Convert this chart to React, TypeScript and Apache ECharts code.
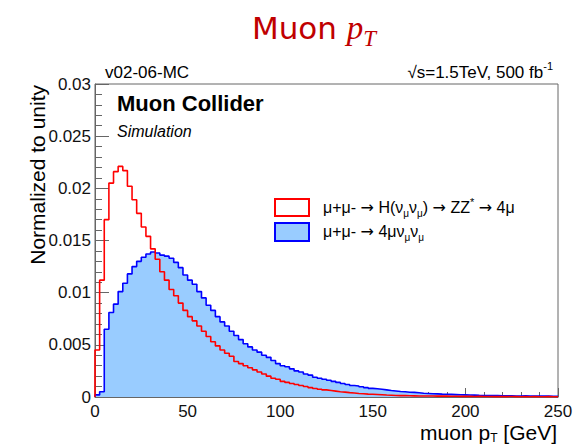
import React, { useEffect, useRef } from "react";
import * as echarts from "echarts";

// ---- data ----
const binWidthGeV = 2.5; // histogram bin width, bins start at 0 GeV
const xTicks = [0, 50, 100, 150, 200, 250];
const yTicks = [0, 0.005, 0.01, 0.015, 0.02, 0.025, 0.03];

const signalName = "μ+μ- → H(νμνμ) → ZZ* → 4μ";
const backgroundName = "μ+μ- → 4μνμνμ";

// μ+μ- → H(νν) → ZZ* → 4μ  (red outline)
const signalValues = [
  0.0045, 0.0112, 0.0170, 0.0205, 0.0216, 0.0221, 0.0217, 0.0202, 0.0189, 0.0176,
  0.0163, 0.0154, 0.0142, 0.0132, 0.0120, 0.0112, 0.0103, 0.0097, 0.0090, 0.0083,
  0.0077, 0.0073, 0.0068, 0.0063, 0.0058, 0.0053, 0.0049, 0.0045, 0.0042, 0.0039,
  0.0034, 0.0032, 0.0030, 0.0028, 0.0026, 0.0024, 0.0022, 0.0020, 0.0018, 0.0017,
  0.0015, 0.0014, 0.0013, 0.0012, 0.0011, 0.00100, 0.00090, 0.00082, 0.00075, 0.00068,
  0.00062, 0.00056, 0.00050, 0.00047, 0.00042, 0.00039, 0.00034, 0.00031, 0.00028, 0.00026,
  0.00024, 0.00022, 0.00019, 0.00017, 0.00015, 0.00013, 0.00013, 0.00012, 0.00011, 0.00010,
  0.00010, 0.00009, 0.00009, 0.00008, 0.00008, 0.00008, 0.00007, 0.00007, 0.00006, 0.00007,
  0.00006, 0.00005, 0.00006, 0.00005, 0.00005, 0.00004, 0.00005, 0.00004, 0.00004, 0.00005,
  0.00004, 0.00003, 0.00004, 0.00003, 0.00004, 0.00003, 0.00003, 0.00004, 0.00003, 0.00003,
];

// μ+μ- → 4μνν  (blue filled)
const backgroundValues = [
  0.0002, 0.0005, 0.0065, 0.0081, 0.0089, 0.0101, 0.0109, 0.0118, 0.0125, 0.0130,
  0.0134, 0.0137, 0.0139, 0.0138, 0.0136, 0.0135, 0.0133, 0.0129, 0.0124, 0.0117,
  0.0112, 0.0108, 0.0101, 0.0095, 0.0088, 0.0083, 0.0077, 0.0072, 0.0068, 0.0063,
  0.0059, 0.0055, 0.0051, 0.0048, 0.0045, 0.0043, 0.0040, 0.0038, 0.0035, 0.0032,
  0.0030, 0.0029, 0.0027, 0.0025, 0.0024, 0.0022, 0.0021, 0.0019, 0.0018, 0.0017,
  0.0016, 0.0015, 0.0014, 0.0013, 0.0012, 0.0011, 0.00105, 0.00098, 0.00090, 0.00083,
  0.00079, 0.00074, 0.00068, 0.00062, 0.00057, 0.00052, 0.00050, 0.00046, 0.00044, 0.00040,
  0.00036, 0.00034, 0.00031, 0.00030, 0.00028, 0.00027, 0.00025, 0.00023, 0.00021, 0.00020,
  0.00019, 0.00018, 0.00016, 0.00015, 0.00015, 0.00014, 0.00013, 0.00012, 0.00012, 0.00011,
  0.00010, 0.00010, 0.00011, 0.00009, 0.00009, 0.00008, 0.00008, 0.00008, 0.00007, 0.00006,
];

const FONT = "'Liberation Sans', Arial, Helvetica, sans-serif";
const ARROW_FONT = "'DejaVu Sans', sans-serif";

function histData(values: number[]): number[][] {
  const pts: number[][] = [[0, 0]];
  values.forEach((v, i) => pts.push([i * binWidthGeV, v]));
  pts.push([values.length * binWidthGeV, values[values.length - 1]]);
  return pts;
}

const legendRich = {
  s: { fontFamily: FONT, fontSize: 10, lineHeight: 10, verticalAlign: "bottom", fill: "#000" },
  u: { fontFamily: FONT, fontSize: 11, lineHeight: 11, verticalAlign: "top", fill: "#000" },
  a: { fontFamily: ARROW_FONT, fontSize: 16, lineHeight: 22, fill: "#000" },
};

export default function App() {
  const ref = useRef<HTMLDivElement>(null);

  useEffect(() => {
    document.body.style.margin = "0";
    if (!ref.current) return;
    const chart = echarts.init(ref.current, undefined, { renderer: "svg" });

    const axisColor = "#666";

    chart.setOption({
      animation: false,
      backgroundColor: "#fff",
      grid: {
        left: 95,
        right: 19,
        top: 84,
        bottom: 51,
        show: true,
        borderColor: axisColor,
        borderWidth: 1,
        containLabel: false,
      },
      xAxis: {
        type: "value",
        min: xTicks[0],
        max: xTicks[xTicks.length - 1],
        interval: xTicks[1] - xTicks[0],
        axisLine: { show: true, lineStyle: { color: axisColor, width: 1 } },
        axisTick: { show: true, inside: true, length: 9, lineStyle: { color: axisColor } },
        minorTick: { show: true, splitNumber: 5, length: 5, lineStyle: { color: axisColor } },
        splitLine: { show: false },
        axisLabel: { fontFamily: FONT, fontSize: 17, color: "#111", margin: 5, lineHeight: 18 },
      },
      yAxis: {
        type: "value",
        min: yTicks[0],
        max: yTicks[yTicks.length - 1],
        interval: yTicks[1] - yTicks[0],
        axisLine: { show: true, lineStyle: { color: axisColor, width: 1 } },
        axisTick: { show: true, inside: true, length: 14, lineStyle: { color: axisColor } },
        minorTick: { show: true, splitNumber: 5, length: 7, lineStyle: { color: axisColor } },
        splitLine: { show: false },
        axisLabel: { fontFamily: FONT, fontSize: 17, color: "#111", margin: 4 },
      },
      series: [
        {
          name: backgroundName,
          type: "line",
          step: "end",
          symbol: "none",
          data: histData(backgroundValues),
          lineStyle: { color: "#0000ff", width: 1.6 },
          itemStyle: { color: "#0000ff" },
          areaStyle: { color: "#99ccff", opacity: 1 },
          z: 2,
        },
        {
          name: signalName,
          type: "line",
          step: "end",
          symbol: "none",
          data: histData(signalValues),
          lineStyle: { color: "#ff0000", width: 1.6 },
          itemStyle: { color: "#ff0000" },
          z: 3,
        },
      ],
      graphic: [
        // Title
        {
          type: "text",
          x: 314,
          y: 28,
          style: {
            text: "Muon {p|p}{t|T}",
            fontFamily: "'DejaVu Sans', Verdana, sans-serif",
            fontSize: 31,
            lineHeight: 44,
            fill: "#c00000",
            align: "center",
            verticalAlign: "middle",
            rich: {
              p: {
                fontFamily: "'Liberation Serif', 'DejaVu Serif', serif",
                fontStyle: "italic",
                fontSize: 33,
                lineHeight: 44,
                fill: "#c00000",
              },
              t: {
                fontFamily: "'Liberation Serif', 'DejaVu Serif', serif",
                fontStyle: "italic",
                fontSize: 23,
                lineHeight: 24,
                verticalAlign: "bottom",
                fill: "#c00000",
              },
            },
          },
        },
        // top-left label
        {
          type: "text",
          x: 105,
          y: 72,
          style: {
            text: "v02-06-MC",
            fontFamily: FONT,
            fontSize: 17,
            fill: "#000",
            align: "left",
            verticalAlign: "middle",
          },
        },
        // top-right label
        {
          type: "text",
          x: 553,
          y: 72,
          style: {
            text: "√s=1.5TeV, 500 fb{sup|-1}",
            fontFamily: FONT,
            fontSize: 17,
            lineHeight: 24,
            fill: "#000",
            align: "right",
            verticalAlign: "middle",
            rich: {
              sup: { fontFamily: FONT, fontSize: 11, lineHeight: 12, verticalAlign: "top", fill: "#000" },
            },
          },
        },
        {
          type: "text",
          x: 117,
          y: 103,
          style: {
            text: "Muon Collider",
            fontFamily: FONT,
            fontSize: 22,
            fontWeight: "bold",
            fill: "#000",
            align: "left",
            verticalAlign: "middle",
          },
        },
        {
          type: "text",
          x: 117,
          y: 131,
          style: {
            text: "Simulation",
            fontFamily: FONT,
            fontSize: 16,
            fontStyle: "italic",
            fill: "#000",
            align: "left",
            verticalAlign: "middle",
          },
        },
        // y-axis title
        {
          type: "text",
          x: 37,
          y: 85,
          rotation: Math.PI / 2,
          style: {
            text: "Normalized to unity",
            fontFamily: FONT,
            fontSize: 21,
            fill: "#000",
            align: "right",
            verticalAlign: "middle",
          },
        },
        // x-axis title
        {
          type: "text",
          x: 557,
          y: 432,
          style: {
            text: "muon p{sub|T} [GeV]",
            fontFamily: FONT,
            fontSize: 21,
            lineHeight: 24,
            fill: "#000",
            align: "right",
            verticalAlign: "middle",
            rich: {
              sub: { fontFamily: FONT, fontSize: 12, lineHeight: 8, verticalAlign: "bottom", fill: "#000" },
            },
          },
        },
        // legend
        {
          type: "rect",
          shape: { x: 275, y: 199, width: 34, height: 17 },
          style: { fill: "#fff", stroke: "#ff0000", lineWidth: 2 },
        },
        {
          type: "rect",
          shape: { x: 275, y: 223, width: 34, height: 18 },
          style: { fill: "#99ccff", stroke: "#0000ff", lineWidth: 2 },
        },
        {
          type: "text",
          x: 323,
          y: 207,
          style: {
            text: "μ+μ- {a|→} H(ν{s|μ}ν{s|μ}) {a|→} ZZ{u|*} {a|→} 4μ",
            fontFamily: FONT,
            fontSize: 16,
            lineHeight: 22,
            fill: "#000",
            align: "left",
            verticalAlign: "middle",
            rich: legendRich,
          },
        },
        {
          type: "text",
          x: 323,
          y: 231,
          style: {
            text: "μ+μ- {a|→} 4μν{s|μ}ν{s|μ}",
            fontFamily: FONT,
            fontSize: 16,
            lineHeight: 22,
            fill: "#000",
            align: "left",
            verticalAlign: "middle",
            rich: legendRich,
          },
        },
      ],
    });

    return () => {
      chart.dispose();
    };
  }, []);

  return <div ref={ref} style={{ width: 577, height: 448 }} />;
}
